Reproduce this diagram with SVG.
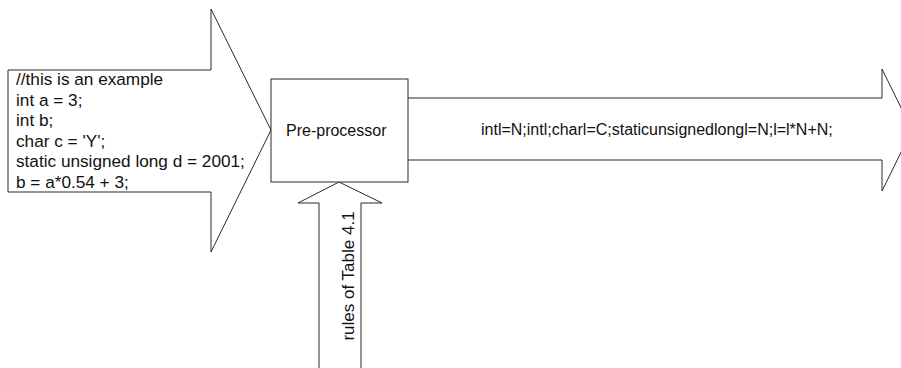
<svg xmlns="http://www.w3.org/2000/svg" width="901" height="368" viewBox="0 0 901 368">
<style>
.shape{fill:#fff;stroke:#2a2a2a;stroke-width:1}
text{font-family:"Liberation Sans",Arial,sans-serif;fill:#111}
.code{font-size:17.2px}
</style>
<rect width="901" height="368" fill="#fff"/>
<g id="connectors">
<g id="input-arrow">
<polygon class="shape" points="8,70 211,70 211,9 271,130 211,252 211,192 8,192"/>
</g>
<g id="output-arrow">
<path class="shape" d="M408,98 L882,98 L882,69 L912,130 L882,191 L882,160 L408,160"/>
</g>
<g id="rules-arrow">
<polygon class="shape" points="339,182 382,203 361,203 361,372 319,372 319,203 298,203"/>
</g>
</g>
<g id="input-code">
<text class="code" x="16" y="85">//this is an example</text>
<text class="code" x="16" y="105.5">int a = 3;</text>
<text class="code" x="16" y="126">int b;</text>
<text class="code" x="16" y="146.5">char c = 'Y';</text>
<text class="code" x="16" y="167">static unsigned long d = 2001;</text>
<text class="code" x="16" y="187.5">b = a*0.54 + 3;</text>
</g>
<g id="preprocessor">
<rect class="shape" x="271" y="79" width="137" height="103"/>
<text x="286" y="136" font-size="16">Pre-processor</text>
</g>
<g id="output-text">
<text x="481" y="135" font-size="16">intl=N;intl;charl=C;staticunsignedlongl=N;l=l*N+N;</text>
</g>
<g id="rules-label">
<text transform="translate(354,276) rotate(-90)" text-anchor="middle" font-size="17">rules of Table 4.1</text>
</g>
</svg>
